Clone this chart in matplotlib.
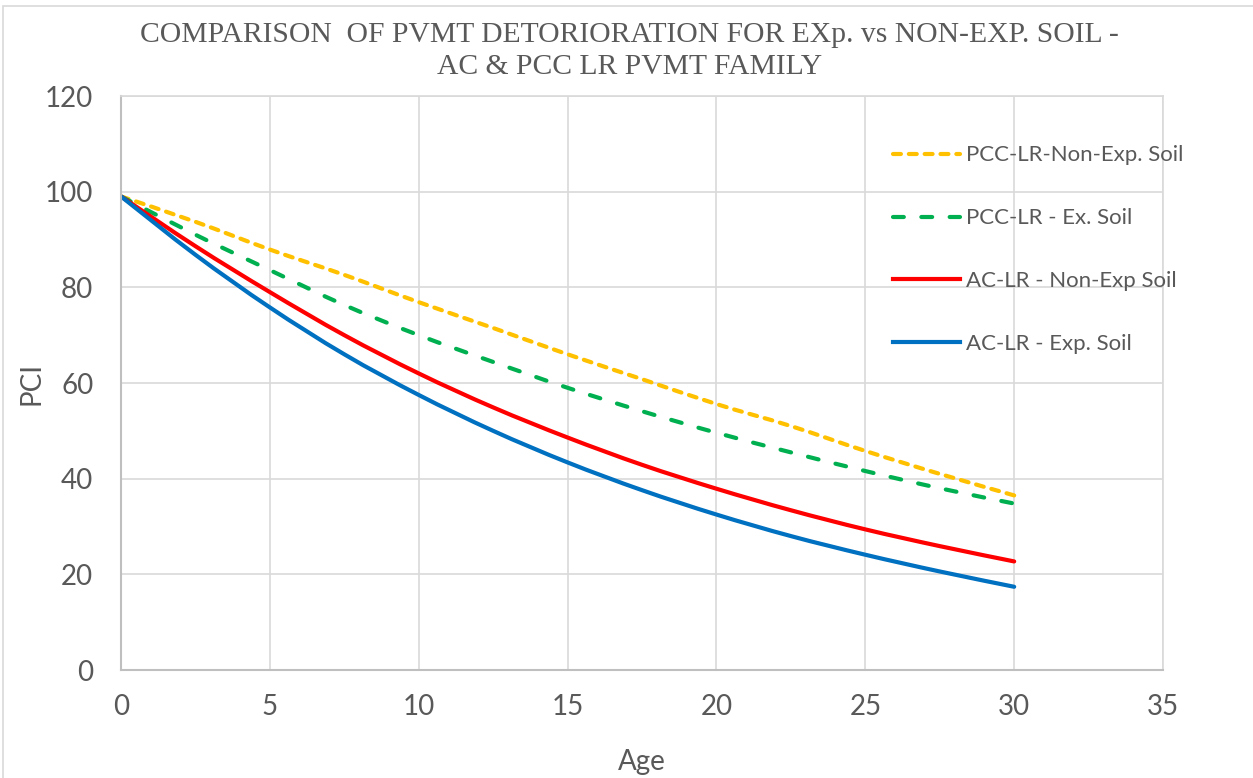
import matplotlib
matplotlib.use("Agg")
import matplotlib.pyplot as plt
from matplotlib.patches import Rectangle, PathPatch
from matplotlib.path import Path
from matplotlib.lines import Line2D

# PCI read at 2.5-year steps
age = [0, 2.5, 5, 7.5, 10, 12.5, 15, 17.5, 20, 22.5, 25, 27.5, 30]
pcc_non_exp = [99, 93.7, 87.9, 82.6, 76.9, 71.5, 66.0, 60.8, 55.6, 51.0, 45.8, 41.0, 36.5]
pcc_exp = [99, 91.0, 83.6, 76.3, 70.0, 64.4, 59.0, 54.1, 49.6, 45.5, 41.6, 38.0, 34.8]
ac_non_exp = [99, 88.6, 79.0, 70.0, 62.0, 54.9, 48.6, 42.9, 37.9, 33.4, 29.4, 25.9, 22.7]
ac_exp = [99, 86.8, 75.8, 66.0, 57.5, 50.0, 43.4, 37.6, 32.5, 28.0, 24.1, 20.6, 17.4]

labels = ["PCC-LR-Non-Exp. Soil", "PCC-LR - Ex. Soil",
          "AC-LR - Non-Exp Soil", "AC-LR - Exp. Soil"]

x_ticks = [0, 5, 10, 15, 20, 25, 30, 35]
y_ticks = [0, 20, 40, 60, 80, 100, 120]

txt = "#595959"
grid = "#D9D9D9"
sans = ["Lato", "DejaVu Sans"]


def smooth_path(xs, ys):
    """Bezier path through the points, like a smoothed spreadsheet line."""
    pts = list(zip(xs, ys))
    verts = [pts[0]]
    codes = [Path.MOVETO]
    n = len(pts)
    for i in range(n - 1):
        p0 = pts[max(i - 1, 0)]
        p1 = pts[i]
        p2 = pts[i + 1]
        p3 = pts[min(i + 2, n - 1)]
        c1 = (p1[0] + (p2[0] - p0[0]) / 6, p1[1] + (p2[1] - p0[1]) / 6)
        c2 = (p2[0] - (p3[0] - p1[0]) / 6, p2[1] - (p3[1] - p1[1]) / 6)
        verts += [c1, c2, p2]
        codes += [Path.CURVE4] * 3
    return Path(verts, codes)


fig = plt.figure(figsize=(12.53, 7.78), dpi=100)
ax = fig.add_axes([0.0966, 0.1388, 0.8316, 0.7378])

# chart area border (cut off at right and bottom)
fig.patches.append(Rectangle((0.0024, -0.05), 1.2, 1.042, transform=fig.transFigure,
                             fill=False, edgecolor=grid, linewidth=1.2))

lw = 3.0
series = [
    (pcc_non_exp, "#FFC000", (0, (1.9, 1.9))),
    (pcc_exp, "#00B050", (0, (2.6, 4.2))),
    (ac_non_exp, "#FF0000", "-"),
    (ac_exp, "#0070C0", "-"),
]
handles = []
for (vals, col, ls), lab in zip(series, labels):
    patch = PathPatch(smooth_path(age, vals), fill=False, edgecolor=col,
                      linewidth=lw, linestyle=ls, capstyle="round")
    ax.add_patch(patch)
    handles.append(Line2D([], [], color=col, lw=lw, linestyle=ls,
                          dash_capstyle="round", label=lab))

ax.set_xlim(0, 35)
ax.set_ylim(0, 120)
ax.set_xticks(x_ticks)
ax.set_yticks(y_ticks)
ax.grid(True, color=grid, linewidth=1.2)
ax.set_axisbelow(True)
for side in ["top", "right"]:
    ax.spines[side].set_color(grid)
    ax.spines[side].set_linewidth(1.2)
for side in ["left", "bottom"]:
    ax.spines[side].set_color("#BFBFBF")
    ax.spines[side].set_linewidth(1.5)

ax.tick_params(length=0, labelcolor=txt, labelsize=20)
ax.tick_params(axis="y", pad=20)
ax.tick_params(axis="x", pad=17)
for lab in ax.get_xticklabels() + ax.get_yticklabels():
    lab.set_family(sans)

ax.set_xlabel("Age", color=txt, fontsize=20, family=sans, labelpad=21)
ax.set_ylabel("PCI", color=txt, fontsize=20, family=sans, labelpad=0)

fig.text(0.5025, 0.935, "COMPARISON  OF PVMT DETORIORATION FOR EXp. vs NON-EXP. SOIL -\n"
         "AC & PCC LR PVMT FAMILY", ha="center", va="center", color=txt,
         fontsize=21.3, family="Liberation Serif", linespacing=1.3)

leg = ax.legend(handles=handles, loc="upper left", bbox_to_anchor=(0.7127, 0.813),
                bbox_transform=fig.transFigure, frameon=False, borderpad=0,
                borderaxespad=0, handlelength=3.0, handletextpad=0.3,
                labelspacing=1.93, prop={"family": sans, "size": 16})
for t in leg.get_texts():
    t.set_color(txt)

fig.savefig("out.png", dpi=100)
